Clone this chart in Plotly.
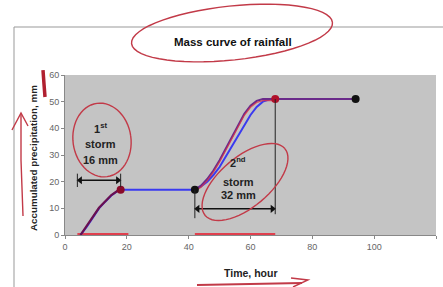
import math
import plotly.graph_objects as go

# ---------------- data ----------------
obs_time = [5, 7, 9, 11, 13, 15, 17, 18, 42, 44, 46, 48, 50, 52, 54, 56, 58, 60, 62, 64, 66, 68, 94]
obs_precip = [0, 3, 6.5, 10, 12.5, 14.8, 16.5, 17, 17, 18.2, 20, 22.5, 25.5, 29.5, 33.5, 37.5, 41.5, 45, 48, 50, 50.8, 51, 51]

calc1_time = [5, 7, 9, 11, 13, 15, 17, 18]
calc1_precip = [0, 3.2, 6.8, 10.2, 12.8, 15, 16.6, 17]
calc2_time = [42, 44, 46, 48, 50, 52, 54, 56, 58, 60, 62, 64, 66, 68, 94]
calc2_precip = [17, 18.5, 21, 24.2, 28, 32.5, 37, 41.5, 45.5, 48.5, 50.3, 51, 51, 51, 51]

key_time = [18, 42, 68, 94]
key_precip = [17, 17, 51, 51]
key_colors = ["#8a0a2a", "#111111", "#b0102a", "#111111"]

storm_start = [4, 42]
storm_end = [18, 68]
storm_depth = [16, 32]
bar_start = [4, 42]
bar_end = [20.5, 68]

x_ticks = [0, 20, 40, 60, 80, 100, 120]
y_ticks = [0, 10, 20, 30, 40, 50, 60]

# ---------------- layout helpers ----------------
W, H = 443, 287
L, R, T, B = 65, 436, 75, 235
FONT = "Arial, Liberation Sans, sans-serif"


def px(xp):
    return (xp - L) / (R - L)


def py(yp):
    return (B - yp) / (B - T)


def ellipse_path(cx, cy, a, b, ang_deg, n=60):
    ang = math.radians(ang_deg)
    pts = []
    for i in range(n + 1):
        t = 2 * math.pi * i / n
        x = a * math.cos(t)
        y = b * math.sin(t)
        xr = cx + x * math.cos(ang) - y * math.sin(ang)
        yr = cy + x * math.sin(ang) + y * math.cos(ang)
        pts.append((px(xr), py(yr)))
    return "M " + " L ".join(f"{x:.4f},{y:.4f}" for x, y in pts)


def poly_path(points):
    return "M " + " L ".join(f"{px(x):.4f},{py(y):.4f}" for x, y in points)


fig = go.Figure()

# storm duration bars on the axis (hand drawn red)
for s, e in zip(bar_start, bar_end):
    fig.add_trace(go.Scatter(x=[s, e], y=[0, 0], mode="lines",
                             line=dict(color="#e0404e", width=4),
                             cliponaxis=False, showlegend=False, hoverinfo="skip"))

# observed (blue) line
fig.add_trace(go.Scatter(x=obs_time, y=obs_precip, mode="lines",
                         line=dict(color="#3a3af0", width=2), showlegend=False))
# purple lines
fig.add_trace(go.Scatter(x=calc1_time, y=calc1_precip, mode="lines",
                         line=dict(color="#6a1050", width=2.2), showlegend=False))
fig.add_trace(go.Scatter(x=calc2_time, y=calc2_precip, mode="lines",
                         line=dict(color="#6a2a8a", width=2), showlegend=False))
# hand-drawn red over the second storm
fig.add_trace(go.Scatter(x=calc2_time[:14], y=[v - 0.6 for v in calc2_precip[:14]], mode="lines",
                         line=dict(color="rgba(220,50,70,0.8)", width=1.3), showlegend=False))

# key points
fig.add_trace(go.Scatter(x=key_time, y=key_precip, mode="markers",
                         marker=dict(color=key_colors, size=8), showlegend=False))

shapes = []
annotations = []

# dimension lines with arrowheads
dim_level = [20.5, 9.8]
for i, (s, e) in enumerate(zip(storm_start, storm_end)):
    lvl = dim_level[i]
    if i == 0:
        for xv in (s, e):
            shapes.append(dict(type="line", xref="x", yref="y", x0=xv, x1=xv,
                               y0=lvl - 2.5, y1=lvl + 2.5, line=dict(color="#222", width=1)))
    else:
        shapes.append(dict(type="line", xref="x", yref="y", x0=s, x1=s,
                           y0=lvl - 3.5, y1=key_precip[1], line=dict(color="#222", width=1)))
        shapes.append(dict(type="line", xref="x", yref="y", x0=e, x1=e,
                           y0=lvl - 2, y1=key_precip[2], line=dict(color="#222", width=1)))
    fig.add_trace(go.Scatter(x=[s + 0.9, e - 0.9], y=[lvl, lvl], mode="lines+markers",
                             line=dict(color="#111", width=1.5),
                             marker=dict(symbol=["triangle-left", "triangle-right"], size=7, color="#111"),
                             showlegend=False, hoverinfo="skip"))

# storm labels (one annotation per line)
lbl_font = dict(size=11, color="#222", family=FONT)
for txt, xv, yv in [("<b>1<sup>st</sup></b>", 11.6, 40.3), ("<b>storm</b>", 11.6, 34.1),
                    (f"<b>{storm_depth[0]} mm</b>", 11.6, 28.1),
                    ("<b>2<sup>nd</sup></b>", 56, 27.3), ("<b>storm</b>", 56, 20),
                    (f"<b>{storm_depth[1]} mm</b>", 56, 15)]:
    annotations.append(dict(x=xv, y=yv, xref="x", yref="y", showarrow=False, text=txt,
                            xanchor="center", yanchor="middle", font=lbl_font))

# title
annotations.append(dict(x=px(233), y=py(42), xref="paper", yref="paper", showarrow=False,
                        xanchor="center", yanchor="middle",
                        text="<b>Mass curve of rainfall</b>",
                        font=dict(size=11.5, color="#111", family=FONT)))
# axis titles
annotations.append(dict(x=px(33), y=py(158), xref="paper", yref="paper", showarrow=False,
                        xanchor="center", yanchor="middle",
                        text="<b>Accumulated precipitation, mm</b>", textangle=-90,
                        font=dict(size=9.8, color="#222", family=FONT)))
annotations.append(dict(x=px(250), y=py(273), xref="paper", yref="paper", showarrow=False,
                        xanchor="center", yanchor="middle",
                        text="<b>Time, hour</b>",
                        font=dict(size=10.5, color="#222", family=FONT)))

# chart frame
shapes.append(dict(type="rect", xref="paper", yref="paper", x0=px(14), x1=px(450),
                   y0=py(295), y1=py(27), line=dict(color="#999", width=1), layer="below"))

red = "#c23a48"
# hand-drawn ellipses
shapes.append(dict(type="path", xref="paper", yref="paper",
                   path=ellipse_path(232, 33, 101, 27, -6), line=dict(color=red, width=1.4)))
shapes.append(dict(type="path", xref="paper", yref="paper",
                   path=ellipse_path(102, 140, 29, 37, -8), line=dict(color=red, width=1.4)))
shapes.append(dict(type="path", xref="paper", yref="paper",
                   path=ellipse_path(245, 182, 52, 25, -40), line=dict(color=red, width=1.4)))
# left arrow
shapes.append(dict(type="path", xref="paper", yref="paper",
                   path=poly_path([(23, 216), (21, 160), (21, 114)]), line=dict(color=red, width=1.4)))
shapes.append(dict(type="path", xref="paper", yref="paper",
                   path=poly_path([(12, 130), (21, 113), (28, 126)]), line=dict(color=red, width=1.4)))
# red stroke near top tick
shapes.append(dict(type="path", xref="paper", yref="paper",
                   path=poly_path([(43, 70), (44, 84), (45, 97)]), line=dict(color="#b02030", width=3.5)))
# bottom arrow
shapes.append(dict(type="path", xref="paper", yref="paper",
                   path=poly_path([(197, 285), (250, 284), (302, 283)]), line=dict(color=red, width=2)))
shapes.append(dict(type="path", xref="paper", yref="paper",
                   path=poly_path([(291, 278), (308, 280), (293, 287)]), line=dict(color=red, width=1.4)))

fig.update_layout(
    width=W, height=H,
    margin=dict(l=L, r=W - R, t=T, b=H - B),
    paper_bgcolor="white",
    plot_bgcolor="#c4c4c4",
    showlegend=False,
    shapes=shapes,
    annotations=annotations,
    font=dict(family=FONT, size=9, color="#555"),
)
fig.update_xaxes(range=[0, 120], tickvals=x_ticks, showgrid=False, zeroline=False,
                 showline=True, linecolor="#888", ticks="outside", ticklen=3,
                 tickcolor="#888", tickfont=dict(size=9, color="#666"))
fig.update_yaxes(range=[0, 60], tickvals=y_ticks, showgrid=False, zeroline=False,
                 showline=True, linecolor="#888", ticks="outside", ticklen=3,
                 tickcolor="#888", tickfont=dict(size=9, color="#666"))

fig.write_html("out.html", config={"displayModeBar": False},
               post_script="document.body.style.margin='0';document.body.style.overflow='hidden';")
